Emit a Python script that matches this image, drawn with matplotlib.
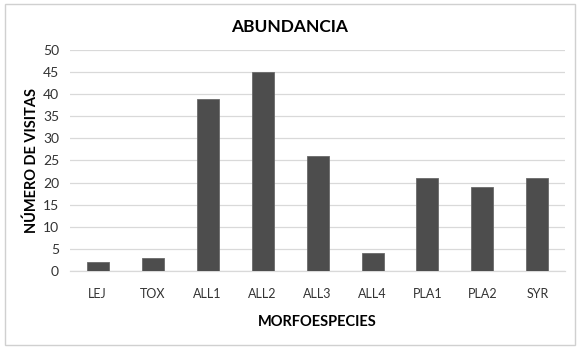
import matplotlib
matplotlib.use("Agg")
import matplotlib.pyplot as plt
from matplotlib.patches import Rectangle

categories = ["LEJ", "TOX", "ALL1", "ALL2", "ALL3", "ALL4", "PLA1", "PLA2", "SYR"]
values = [2, 3, 39, 45, 26, 4, 21, 19, 21]
yticks = [0, 5, 10, 15, 20, 25, 30, 35, 40, 45, 50]

plt.rcParams['font.family'] = ['Lato', 'DejaVu Sans']

fig = plt.figure(figsize=(5.8, 3.49), dpi=100)
ax = fig.add_axes([0.121, 0.2235, 0.853, 0.6335])

x = list(range(len(categories)))
ax.bar(x, values, width=0.4, color="#4d4d4d", edgecolor="#6a6a6a", linewidth=0.6, zorder=3)

ax.set_xlim(-0.5, len(categories) - 0.5)
ax.set_ylim(0, 50)
ax.set_yticks(yticks)
ax.set_xticks(x)
ax.set_xticklabels(categories, fontsize=9)
ax.tick_params(axis='y', labelsize=10, length=0, pad=8, labelcolor="#333333")
ax.tick_params(axis='x', length=0, pad=12, labelcolor="#333333")
ax.yaxis.grid(True, color="#d9d9d9", linewidth=0.9, zorder=0)
ax.set_axisbelow(True)
for s in ["top", "right", "left"]:
    ax.spines[s].set_visible(False)
ax.spines["bottom"].set_color("#d9d9d9")
ax.spines["bottom"].set_linewidth(0.9)

ax.set_ylabel("NÚMERO DE VISITAS", fontsize=10.5, fontweight="bold", labelpad=3)
ax.set_xlabel("MORFOESPECIES", fontsize=10.5, fontweight="bold", labelpad=11)
fig.text(0.5, 0.922, "ABUNDANCIA", ha="center", va="center", fontsize=12.5, fontweight="bold")

fig.patches.append(Rectangle((0.008, 0.012), 0.984, 0.976, transform=fig.transFigure,
                             fill=False, edgecolor="#d0d0d0", linewidth=1.0))

fig.savefig("out.png", dpi=100)
